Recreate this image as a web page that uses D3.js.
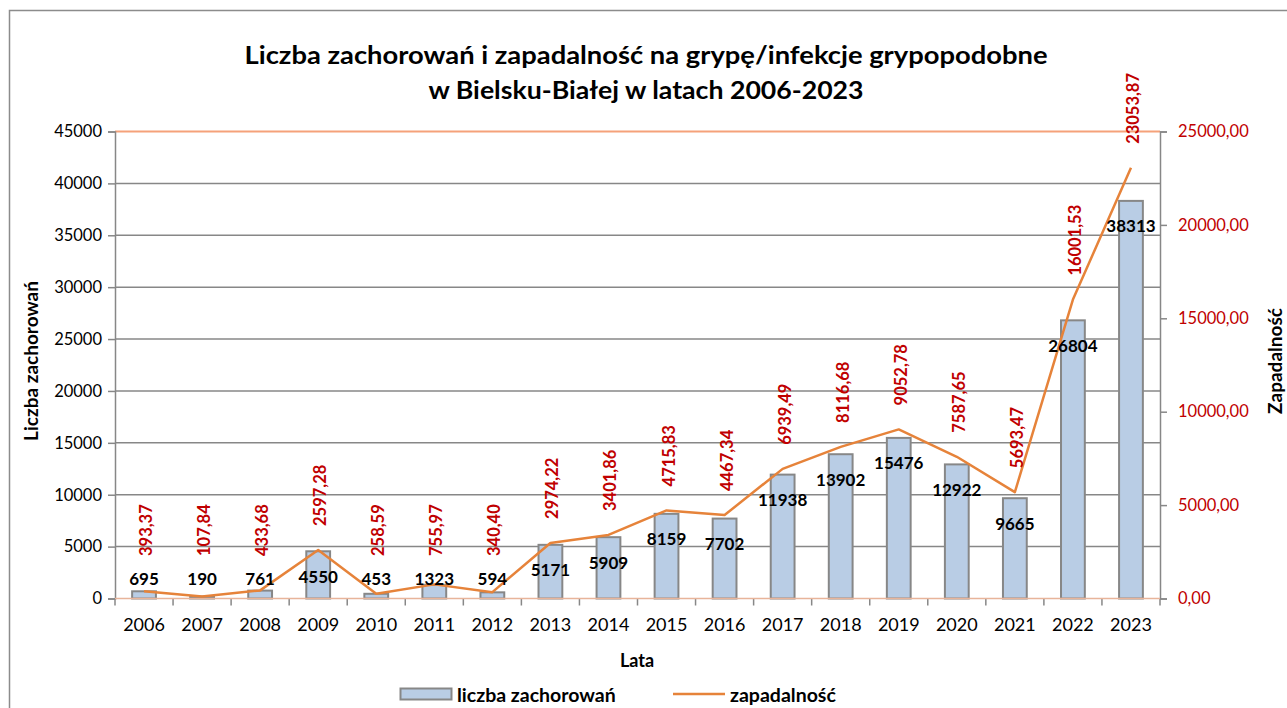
<!DOCTYPE html>
<html><head><meta charset="utf-8">
<script src="https://cdn.jsdelivr.net/npm/d3@7"></script>
<style>
body{margin:0;background:#fff;}
svg{display:block;font-family:Lato,"Open Sans",sans-serif;}
</style></head>
<body>
<svg id="c" width="1287" height="708"></svg>
<script>
const years = ["2006","2007","2008","2009","2010","2011","2012","2013","2014","2015","2016","2017","2018","2019","2020","2021","2022","2023"];
const cases = [695,190,761,4550,453,1323,594,5171,5909,8159,7702,11938,13902,15476,12922,9665,26804,38313];
const incidence = [393.37,107.84,433.68,2597.28,258.59,755.97,340.40,2974.22,3401.86,4715.83,4467.34,6939.49,8116.68,9052.78,7587.65,5693.47,16001.53,23053.87];
const leftTicks = [0,5000,10000,15000,20000,25000,30000,35000,40000,45000];
const rightTicks = [0,5000,10000,15000,20000,25000];
const titleLines = ["Liczba zachorowań i zapadalność na grypę/infekcje grypopodobne","w Bielsku-Białej w latach 2006-2023"];

const loc = d3.formatLocale({decimal:",",thousands:"",grouping:[3],currency:["",""]});
const f2 = loc.format(".2f");

const svg = d3.select("#c");
const L=115, R=1160, T=131.5, B=598.5;
const x = d3.scaleBand().domain(years).range([L,R]).paddingInner(0.59).paddingOuter(0.295);
const yL = d3.scaleLinear().domain([0,45000]).range([B,T]);
const yR = d3.scaleLinear().domain([0,25000]).range([B,T]);
const cx = d => x(d)+x.bandwidth()/2;

// frame
svg.append("rect").attr("x",9.5).attr("y",10.5).attr("width",1290).attr("height",710)
  .attr("fill","none").attr("stroke","#8c8c8c").attr("stroke-width",1.5);

// title
svg.append("g").selectAll("text").data(titleLines).join("text")
  .attr("x",646).attr("y",(d,i)=>64+i*35).attr("text-anchor","middle")
  .attr("font-weight","bold").attr("font-size",24).attr("fill","#000")
  .attr("textLength",(d,i)=>i===0?803:435).attr("lengthAdjust","spacingAndGlyphs")
  .text(d=>d);

// gridlines
svg.append("g").selectAll("line").data(leftTicks.filter(t=>t>0&&t<45000)).join("line")
  .attr("x1",L).attr("x2",R).attr("y1",d=>yL(d)).attr("y2",d=>yL(d))
  .attr("stroke","#878787").attr("stroke-width",1.5);
svg.append("line").attr("x1",L).attr("x2",R).attr("y1",T).attr("y2",T)
  .attr("stroke","#f5a27a").attr("stroke-width",2);

// left axis
const gl = svg.append("g").attr("transform",`translate(${L},0)`)
  .call(d3.axisLeft(yL).tickValues(leftTicks).tickSize(7).tickPadding(6).tickFormat(d3.format("d")));
gl.select(".domain").attr("stroke","#878787").attr("stroke-width",1.5);
gl.selectAll(".tick line").attr("stroke","#878787").attr("stroke-width",1.5);
gl.selectAll("text").attr("font-size",16.5).attr("fill","#000").attr("font-family","Lato");

// right axis
const gr = svg.append("g").attr("transform",`translate(${R},0)`)
  .call(d3.axisRight(yR).tickValues(rightTicks).tickSize(7).tickPadding(11).tickFormat(f2));
gr.select(".domain").attr("stroke","#878787").attr("stroke-width",1.5);
gr.selectAll(".tick line").attr("stroke","#878787").attr("stroke-width",1.5);
gr.selectAll("text").attr("font-size",16.5).attr("fill","#c00000").attr("font-family","Lato");

// bottom axis
const gb = svg.append("g").attr("transform",`translate(0,${B})`)
  .call(d3.axisBottom(x).tickSize(0).tickPadding(20));
gb.select(".domain").remove();
gb.selectAll("text").attr("font-size",18).attr("fill","#000").attr("font-family","Lato");
const bounds = years.map(d=>x(d) - x.step()*x.paddingInner()/2).concat([R]);
svg.append("g").selectAll("line").data(bounds).join("line")
  .attr("x1",d=>d).attr("x2",d=>d).attr("y1",B).attr("y2",B+7)
  .attr("stroke","#878787").attr("stroke-width",1.5);

// bars
svg.append("g").selectAll("rect").data(years).join("rect")
  .attr("x",d=>x(d)).attr("width",x.bandwidth())
  .attr("y",(d,i)=>yL(cases[i])).attr("height",(d,i)=>B-yL(cases[i]))
  .attr("fill","#b9cde5").attr("stroke","#878787").attr("stroke-width",2);

// baseline
svg.append("line").attr("x1",L).attr("x2",R).attr("y1",B).attr("y2",B)
  .attr("stroke","#e8b49a").attr("stroke-width",1.5);

// line
svg.append("path").datum(years)
  .attr("d",d3.line().x(d=>cx(d)).y((d,i)=>yR(incidence[i])))
  .attr("fill","none").attr("stroke","#e6833a").attr("stroke-width",2.5).attr("stroke-linejoin","round");

// bar labels
svg.append("g").selectAll("text").data(years).join("text")
  .attr("x",d=>cx(d)).attr("y",(d,i)=>Math.min(yL(cases[i])+25,578))
  .attr("text-anchor","middle").attr("dominant-baseline","central")
  .attr("font-weight","bold").attr("font-size",17).attr("fill","#000")
  .text((d,i)=>cases[i]);

// line labels (rotated)
svg.append("g").selectAll("text").data(years).join("text")
  .attr("transform",(d,i)=>`translate(${cx(d)+2},${Math.min(yR(incidence[i])-24,556)}) rotate(-90)`)
  .attr("text-anchor","start").attr("dominant-baseline","central")
  .attr("font-weight","bold").attr("font-size",16.5).attr("fill","#c00000")
  .text((d,i)=>f2(incidence[i]));

// axis titles
svg.append("text").attr("transform","translate(30,361) rotate(-90)")
  .attr("text-anchor","middle").attr("dominant-baseline","central")
  .attr("font-weight","bold").attr("font-size",19).text("Liczba zachorowań");
svg.append("text").attr("transform","translate(1274,361) rotate(-90)")
  .attr("text-anchor","middle").attr("dominant-baseline","central")
  .attr("font-weight","bold").attr("font-size",19).text("Zapadalność");
svg.append("text").attr("x",637).attr("y",660)
  .attr("text-anchor","middle").attr("dominant-baseline","central")
  .attr("font-weight","bold").attr("font-size",18).text("Lata");

// legend
const lg = svg.append("g");
lg.append("rect").attr("x",400.5).attr("y",688.5).attr("width",51).attr("height",11)
  .attr("fill","#b9cde5").attr("stroke","#878787").attr("stroke-width",2);
lg.append("text").attr("x",457).attr("y",694).attr("dominant-baseline","central")
  .attr("font-weight","bold").attr("font-size",19.5).text("liczba zachorowań");
lg.append("line").attr("x1",673).attr("x2",725).attr("y1",694).attr("y2",694)
  .attr("stroke","#e6833a").attr("stroke-width",2.5);
lg.append("text").attr("x",730).attr("y",694).attr("dominant-baseline","central")
  .attr("font-weight","bold").attr("font-size",19.5).text("zapadalność");
</script>
</body></html>
